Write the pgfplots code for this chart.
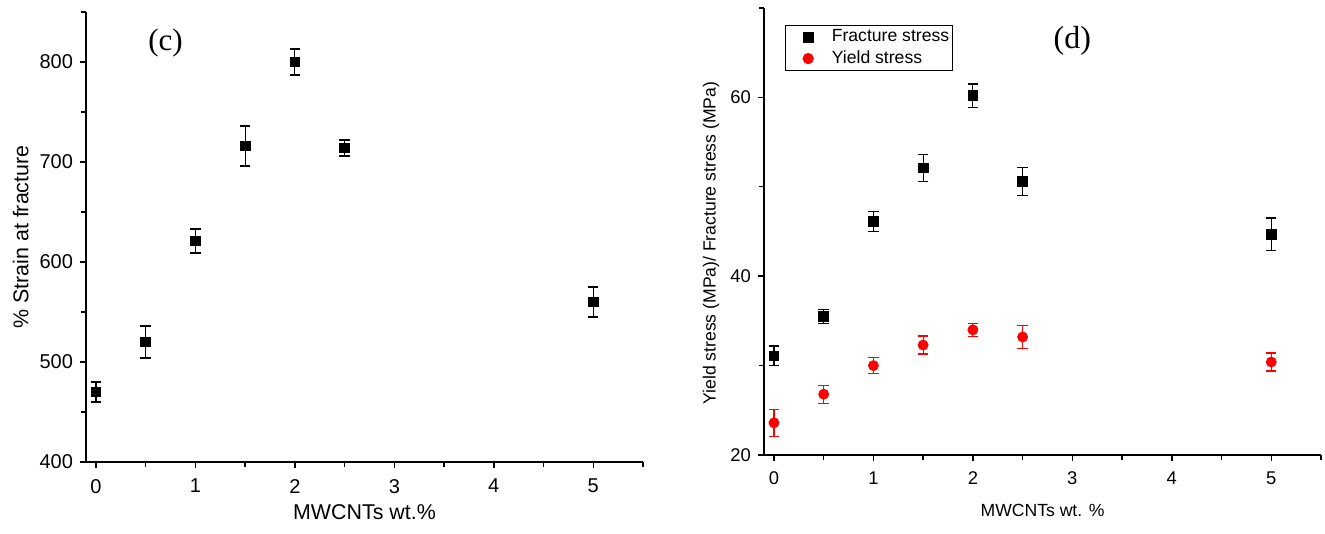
\documentclass[border=0pt]{standalone}
\usepackage{fontspec}
\setmainfont{Liberation Sans}
\newfontfamily\seriffont{Liberation Serif}
\usepackage{pgfplots}
\pgfplotsset{compat=1.18}
\pgfplotsset{
  panel/.style={
    scale only axis, anchor=south west,
    axis x line*=bottom, axis y line*=left,
    axis line style={line width=0.9pt, black},
    tick style={line width=0.7pt, black},
    major tick length=3pt, minor tick length=2.5pt,
    tick align=outside,
    xmin=-0.1, xmax=5.5,
    xtick={0,1,2,3,4,5}, minor xtick={0.5,1.5,2.5,3.5,4.5,5.5},
    /pgf/number format/assume math mode=true,
    clip=false,
    xticklabel style={yshift=-2pt},
  },
  blk/.style={only marks, mark=square*, mark size=2.4pt, black,
    mark options={fill=black, draw=black},
    error bars/.cd, y dir=both, y explicit,
    error bar style={line width=0.6pt, black},
    error mark options={rotate=90, mark size=2.6pt, line width=0.6pt, black}},
  rd/.style={only marks, mark=*, mark size=2.5pt, red,
    mark options={fill=red, draw=red},
    error bars/.cd, y dir=both, y explicit,
    error bar style={line width=0.6pt, red},
    error mark options={rotate=90, mark size=2.6pt, line width=0.6pt, red}},
}
\begin{document}
\begin{tikzpicture}
\useasboundingbox (0,0) rectangle (662.5pt,267pt);
% ---------------- (c)
\begin{axis}[panel,
  at={(43pt,36pt)}, width=278.5pt, height=225pt,
  ymin=400, ymax=850,
  ytick={400,500,600,700,800}, minor ytick={450,550,650,750,850},
  ticklabel style={font=\fontsize{10}{12}\selectfont},
  xlabel={MWCNTs wt.\%}, ylabel={\% Strain at fracture},
  label style={font=\fontsize{10.7}{12}\selectfont},
  xlabel style={at={(axis description cs:0.5,-0.111)}, anchor=center},
  ylabel style={at={(axis description cs:-0.117,0.5)}, anchor=center, rotate=0},
]
\addplot+[blk] coordinates {
  (0,470) +- (0,10)
  (0.5,520) +- (0,16)
  (1,621) +- (0,12)
  (1.5,716) +- (0,20)
  (2,800) +- (0,13)
  (2.5,714) +- (0,8)
  (5,560) +- (0,15)
};
\node[font=\seriffont\fontsize{15.5}{17}\selectfont] at (axis cs:0.7,819) {(c)};
\end{axis}
% ---------------- (d)
\begin{axis}[panel,
  at={(382pt,39.5pt)}, width=278.5pt, height=223.5pt,
  ymin=20, ymax=70,
  ytick={20,40,60}, minor ytick={30,50,70},
  ticklabel style={font=\fontsize{9.2}{11}\selectfont},
  xlabel={MWCNTs wt. \%}, ylabel={Yield stress (MPa)/ Fracture stress (MPa)},
  label style={font=\fontsize{8.8}{10}\selectfont},
  xlabel style={at={(axis description cs:0.5,-0.123)}, anchor=center},
  ylabel style={at={(axis description cs:-0.095,0.474)}, anchor=center, rotate=0},
  legend style={at={(0.0377,0.962)}, anchor=north west, draw=black,
    line width=0.6pt, font=\fontsize{8.8}{10}\selectfont,
    inner sep=0.5pt, row sep=0pt, column sep=0pt,
    nodes={inner xsep=1pt, inner ysep=1.5pt}},
  legend image code/.code={\path (0pt,0pt) (21pt,0pt);
    \draw[#1] plot coordinates {(10.5pt,0pt)};},
  legend cell align=left,
]
\addplot+[blk] coordinates {
  (0,31.1) +- (0,1.1)
  (0.5,35.5) +- (0,0.8)
  (1,46.1) +- (0,1.1)
  (1.5,52.1) +- (0,1.5)
  (2,60.2) +- (0,1.3)
  (2.5,50.6) +- (0,1.6)
  (5,44.7) +- (0,1.8)
};
\addlegendentry{Fracture stress}
\addplot+[rd] coordinates {
  (0,23.6) +- (0,1.5)
  (0.5,26.8) +- (0,1.0)
  (1,30.0) +- (0,0.9)
  (1.5,32.3) +- (0,1.0)
  (2,34.0) +- (0,0.75)
  (2.5,33.2) +- (0,1.3)
  (5,30.4) +- (0,1.0)
};
\addlegendentry{Yield stress}
\node[font=\seriffont\fontsize{16}{18}\selectfont] at (axis cs:3.0,66.3) {(d)};
\end{axis}
\end{tikzpicture}
\end{document}
